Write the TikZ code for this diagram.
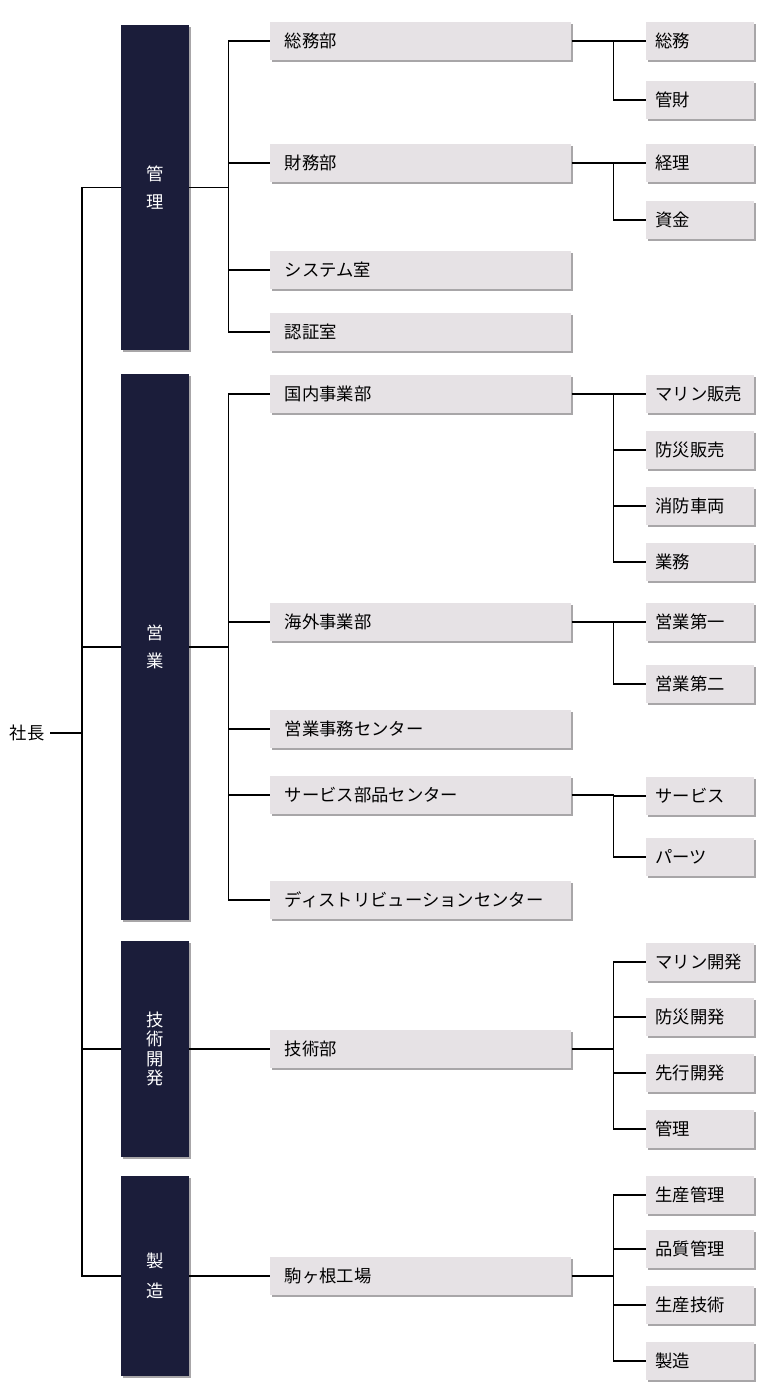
\documentclass[tikz,border=0pt]{standalone}
\usepackage{fontspec}
\newfontfamily\jp{Noto Sans CJK JP}
\usetikzlibrary{shadows}
\definecolor{navy}{RGB}{27,29,58}
\definecolor{boxgray}{RGB}{230,226,229}
\definecolor{shadegray}{RGB}{168,166,168}

\begin{document}
\begin{tikzpicture}[x=0.75pt, y=-0.75pt, font=\jp\fontsize{13}{16}\selectfont,
    link/.style={line width=0.85pt, black},
    boxshade/.style={drop shadow={shadow xshift=1.5pt, shadow yshift=-1.5pt, fill=shadegray, opacity=1}},
    div/.style={fill=navy, text=white, minimum width=51pt, inner sep=0pt, align=center, boxshade},
    dept/.style={fill=boxgray, boxshade, anchor=west, minimum height=28.5pt, inner ysep=0pt,
      inner xsep=11pt, text width=203.75pt, align=left},
    sect/.style={dept, inner xsep=7pt, text width=67pt}]
  \useasboundingbox (0,0) rectangle (760,1400);

  % divisions
  \foreach \name/\top/\bot/\lab/\ls in {d-kanri/25/350/{管\\理}/21, d-eigyo/374/920/{営\\業}/21,
      d-kaihatsu/941/1157/{技\\術\\開\\発}/14.5, d-seizo/1176/1376/{製\\造}/22.5} {
    \pgfmathsetmacro\hh{(\bot-\top)*0.75}
    \node[div, minimum height=\hh pt, font=\jp\fontsize{13}{\ls}\selectfont] (\name) at (155,{(\top+\bot)/2}) {\lab};
  }

  % departments
  \foreach \name/\y/\lab in {somu/41/総務部, zaimu/163/財務部, system/270/システム室, ninsho/332/認証室,
      kokunai/394/国内事業部, kaigai/622/海外事業部, jimu/729/営業事務センター,
      service/795/サービス部品センター, distri/900/ディストリビューションセンター,
      gijutsu/1049/技術部, komagane/1276/駒ヶ根工場}
    \node[dept] (\name) at (270,\y) {\lab};

  % sections
  \foreach \name/\y/\lab in {s-somu/41/総務, kanzai/100/管財, keiri/163/経理, shikin/220/資金,
      marine/394/マリン販売, bosai/450/防災販売, shobo/506/消防車両, gyomu/562/業務,
      eigyo1/622/営業第一, eigyo2/684/営業第二, svc/796/サービス, parts/857/パーツ,
      m-dev/962/マリン開発, b-dev/1017/防災開発, adv-dev/1073/先行開発, g-kanri/1129/管理,
      prod-ctl/1195/生産管理, qc/1249/品質管理, prod-tech/1305/生産技術, s-seizo/1361/製造}
    \node[sect] (\name) at (646,\y) {\lab};

  \node[anchor=east, inner xsep=4pt] (shacho) at (50,733) {社長};
  \coordinate (trunk) at (82,733);
  \draw[link] (shacho.east) -- (trunk);
  \foreach \d in {d-kanri,d-eigyo,d-kaihatsu,d-seizo}
    \draw[link] (trunk) |- (\d.west);

  \draw[link] (d-kanri.east) -- ++(39,0) coordinate (bus-kanri);
  \foreach \d in {somu,zaimu,system,ninsho}
    \draw[link] (bus-kanri) |- (\d.west);
  \draw[link] (d-eigyo.east) -- ++(39,0) coordinate (bus-eigyo);
  \foreach \d in {kokunai,kaigai,jimu,service,distri}
    \draw[link] (bus-eigyo) |- (\d.west);
  \draw[link] (d-kaihatsu.east) -- (gijutsu.west);
  \draw[link] (d-seizo.east) -- (komagane.west);

  \foreach \d/\subs in {somu/{s-somu,kanzai}, zaimu/{keiri,shikin}, kokunai/{marine,bosai,shobo,gyomu},
      kaigai/{eigyo1,eigyo2}, service/{svc,parts}, gijutsu/{m-dev,b-dev,adv-dev,g-kanri},
      komagane/{prod-ctl,qc,prod-tech,s-seizo}} {
    \draw[link] (\d.east) -- ++(42,0) coordinate (b-\d);
    \foreach \s in \subs
      \draw[link] (b-\d) |- (\s.west);
  }
\end{tikzpicture}
\end{document}
